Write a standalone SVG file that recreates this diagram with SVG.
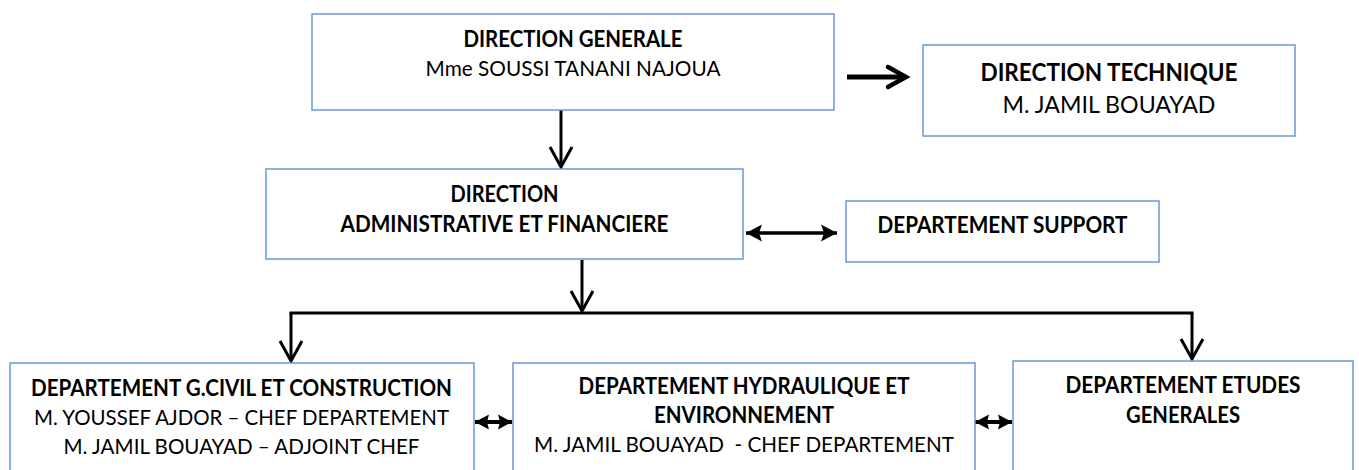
<svg xmlns="http://www.w3.org/2000/svg" width="1359" height="470" viewBox="0 0 1359 470">
<style>
.box{fill:#ffffff;stroke:#6a98d8;stroke-width:1.5}
.b{font-family:Lato,"Liberation Sans",sans-serif;font-weight:bold;font-size:22px;fill:#000;text-anchor:middle}
.r{font-family:Lato,"Liberation Sans",sans-serif;font-weight:normal;font-size:22px;fill:#000;text-anchor:middle}
.big{font-size:24px}
.ln{fill:none;stroke:#000;stroke-width:3}
</style>
<defs>
<marker id="chev" markerUnits="userSpaceOnUse" viewBox="-24 -14 28 28" markerWidth="28" markerHeight="28" refX="0" refY="0" orient="auto">
<path d="M-20,-11 L0,0 L-20,11" fill="none" stroke="#000" stroke-width="3"/>
</marker>
<marker id="chevThick" markerUnits="userSpaceOnUse" viewBox="-24 -15 30 30" markerWidth="30" markerHeight="30" refX="0" refY="0" orient="auto">
<path d="M-18,-10 L0,0 L-18,10" fill="none" stroke="#000" stroke-width="4.5" stroke-linecap="round"/>
</marker>
<marker id="tri" markerUnits="userSpaceOnUse" viewBox="-18 -10 20 20" markerWidth="20" markerHeight="20" refX="0" refY="0" orient="auto-start-reverse">
<path d="M0,0 L-16,-8.5 L-13,0 L-16,8.5 Z" fill="#000"/>
</marker>
<marker id="triS" markerUnits="userSpaceOnUse" viewBox="-16 -9 18 18" markerWidth="18" markerHeight="18" refX="0" refY="0" orient="auto-start-reverse">
<path d="M0,0 L-14,-7.5 L-12,0 L-14,7.5 Z" fill="#000"/>
</marker>
</defs>

<g id="connectors">
<line class="ln" x1="561" y1="110" x2="561" y2="167" marker-end="url(#chev)"/>
<line class="ln" x1="847" y1="77" x2="906" y2="77" style="stroke-width:5" marker-end="url(#chevThick)"/>
<line class="ln" x1="746" y1="233" x2="837" y2="233" style="stroke-width:3.5" marker-start="url(#tri)" marker-end="url(#tri)"/>
<line class="ln" x1="582" y1="260" x2="582" y2="311" marker-end="url(#chev)"/>
<line class="ln" x1="289.5" y1="313" x2="1193.5" y2="313"/>
<line class="ln" x1="291" y1="313" x2="291" y2="361" marker-end="url(#chev)"/>
<line class="ln" x1="1192" y1="313" x2="1192" y2="359" marker-end="url(#chev)"/>
<line class="ln" x1="475" y1="422" x2="512" y2="422" style="stroke-width:4" marker-start="url(#triS)" marker-end="url(#triS)"/>
<line class="ln" x1="975" y1="422" x2="1012" y2="422" style="stroke-width:4" marker-start="url(#triS)" marker-end="url(#triS)"/>
</g>

<g id="direction-generale">
<rect class="box" x="312" y="14" width="522" height="96"/>
<text class="b" x="573" y="47" textLength="219" lengthAdjust="spacingAndGlyphs">DIRECTION GENERALE</text>
<text class="r" x="573" y="76" textLength="295" lengthAdjust="spacingAndGlyphs">Mme SOUSSI TANANI NAJOUA</text>
</g>

<g id="direction-technique">
<rect class="box" x="923" y="45" width="372" height="91"/>
<text class="b big" x="1109" y="81" textLength="257" lengthAdjust="spacingAndGlyphs">DIRECTION TECHNIQUE</text>
<text class="r big" x="1109" y="113" textLength="213" lengthAdjust="spacingAndGlyphs">M. JAMIL BOUAYAD</text>
</g>

<g id="direction-administrative">
<rect class="box" x="266" y="169" width="477" height="90"/>
<text class="b" x="504.5" y="202" textLength="108" lengthAdjust="spacingAndGlyphs">DIRECTION</text>
<text class="b" x="504.5" y="232" textLength="328" lengthAdjust="spacingAndGlyphs">ADMINISTRATIVE ET FINANCIERE</text>
</g>

<g id="departement-support">
<rect class="box" x="846" y="201" width="313" height="61"/>
<text class="b" x="1002.5" y="233" textLength="250" lengthAdjust="spacingAndGlyphs">DEPARTEMENT SUPPORT</text>
</g>

<g id="departement-gcivil">
<rect class="box" x="10" y="363" width="464" height="120"/>
<text class="b" x="241.5" y="396" textLength="421" lengthAdjust="spacingAndGlyphs">DEPARTEMENT G.CIVIL ET CONSTRUCTION</text>
<text class="r" x="241.5" y="425" textLength="415" lengthAdjust="spacingAndGlyphs">M. YOUSSEF AJDOR – CHEF DEPARTEMENT</text>
<text class="r" x="241.5" y="454" textLength="356" lengthAdjust="spacingAndGlyphs">M. JAMIL BOUAYAD – ADJOINT CHEF</text>
</g>

<g id="departement-hydraulique">
<rect class="box" x="513" y="363" width="462" height="120"/>
<text class="b" x="744" y="394" textLength="331" lengthAdjust="spacingAndGlyphs">DEPARTEMENT HYDRAULIQUE ET</text>
<text class="b" x="744" y="423" textLength="180" lengthAdjust="spacingAndGlyphs">ENVIRONNEMENT</text>
<text class="r" x="744" y="452" textLength="420" lengthAdjust="spacingAndGlyphs" xml:space="preserve">M. JAMIL BOUAYAD  - CHEF DEPARTEMENT</text>
</g>

<g id="departement-etudes">
<rect class="box" x="1013" y="361" width="340" height="120"/>
<text class="b" x="1183" y="393" textLength="235" lengthAdjust="spacingAndGlyphs">DEPARTEMENT ETUDES</text>
<text class="b" x="1183" y="423" textLength="114" lengthAdjust="spacingAndGlyphs">GENERALES</text>
</g>
</svg>
